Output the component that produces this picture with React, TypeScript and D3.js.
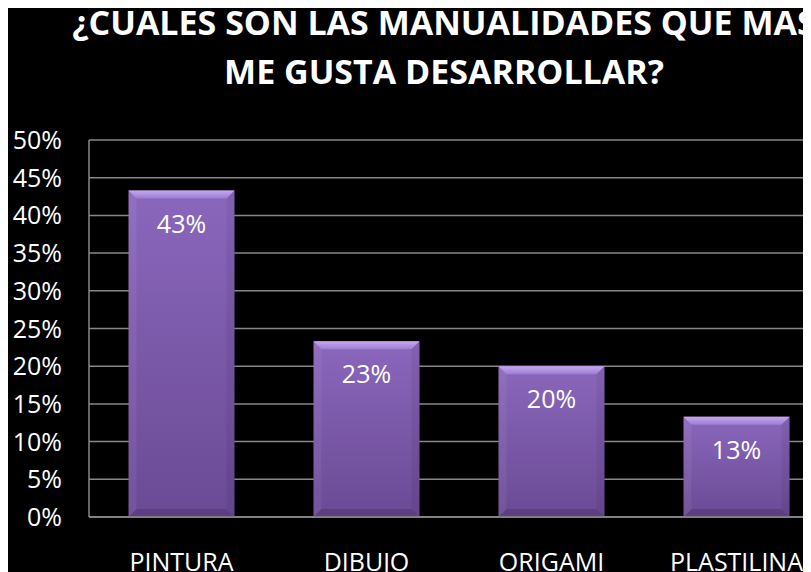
import React from 'react';
import * as d3 from 'd3';

const categories = ['PINTURA', 'DIBUJO', 'ORIGAMI', 'PLASTILINA'];
const values = [0.433, 0.233, 0.2, 0.133];
const valueLabels = ['43%', '23%', '20%', '13%'];
const yTicks = [0, 0.05, 0.1, 0.15, 0.2, 0.25, 0.3, 0.35, 0.4, 0.45, 0.5];
const titleLines = ['¿CUALES SON LAS MANUALIDADES QUE MAS', 'ME GUSTA DESARROLLAR?'];

const FONT = '"Open Sans", "DejaVu Sans", sans-serif';

const App = () => {
  const width = 803;
  const height = 564;

  // plot area in page coordinates (svg sits at 8,8)
  const y = d3.scaleLinear().domain([0, 0.5]).range([517, 140]);
  const x = d3
    .scaleBand<string>()
    .domain(categories)
    .range([89, 829])
    .paddingInner(0.427)
    .paddingOuter(0.2135);

  const bev = 8;
  const pct = d3.format('.0%');

  return (
    <>
      <style>{'body{overflow:hidden}'}</style>
      <svg width={width} height={height} style={{ display: 'block', background: '#000' }}>
        <defs>
          <linearGradient id="barBody" x1="0" y1="0" x2="0" y2="1">
            <stop offset="0%" stopColor="#8a67bc" />
            <stop offset="100%" stopColor="#6a4a95" />
          </linearGradient>
          <linearGradient id="barTop" x1="0" y1="0" x2="0" y2="1">
            <stop offset="0%" stopColor="#c6a8ee" />
            <stop offset="100%" stopColor="#9d7cd2" />
          </linearGradient>
        </defs>
        <g transform="translate(-8,-8)">
          {titleLines.map((t, i) => (
            <text
              key={t}
              x={444}
              y={35 + i * 49}
              textAnchor="middle"
              fill="#fff"
              fontFamily={FONT}
              fontWeight="bold"
              fontSize={34}
            >
              {t}
            </text>
          ))}

          {yTicks.map((t) => (
            <g key={t}>
              <line x1={89} x2={829} y1={y(t)} y2={y(t)} stroke="#878787" strokeWidth={1.5} />
              <text
                x={62}
                y={y(t) + 9}
                textAnchor="end"
                fill="#fff"
                fontFamily={FONT}
                fontSize={25}
              >
                {pct(t)}
              </text>
            </g>
          ))}
          <line x1={89} x2={89} y1={y(0.5)} y2={y(0)} stroke="#878787" strokeWidth={1.5} />

          {categories.map((c, i) => {
            const x0 = x(c)!;
            const x1 = x0 + x.bandwidth();
            const y0 = y(values[i]);
            const yb = y(0);
            return (
              <g key={c}>
                <rect x={x0} y={y0} width={x1 - x0} height={yb - y0} fill="url(#barBody)" />
                <path
                  d={`M${x0},${y0}L${x1},${y0}L${x1 - bev},${y0 + bev}L${x0 + bev},${y0 + bev}Z`}
                  fill="url(#barTop)"
                />
                <path
                  d={`M${x0},${y0}L${x0 + bev},${y0 + bev}L${x0 + bev},${yb - bev}L${x0},${yb}Z`}
                  fill="#fff"
                  fillOpacity={0.06}
                />
                <path
                  d={`M${x1},${y0}L${x1 - bev},${y0 + bev}L${x1 - bev},${yb - bev}L${x1},${yb}Z`}
                  fill="#000"
                  fillOpacity={0.06}
                />
                <path
                  d={`M${x0},${yb}L${x0 + bev},${yb - bev}L${x1 - bev},${yb - bev}L${x1},${yb}Z`}
                  fill="#000"
                  fillOpacity={0.14}
                />
                <text
                  x={x0 + x.bandwidth() / 2}
                  y={y0 + 42}
                  textAnchor="middle"
                  fill="#fff"
                  fontFamily={FONT}
                  fontSize={25}
                >
                  {valueLabels[i]}
                </text>
                <text
                  x={x0 + x.bandwidth() / 2}
                  y={571}
                  textAnchor="middle"
                  fill="#fff"
                  fontFamily={FONT}
                  fontSize={25}
                >
                  {c}
                </text>
              </g>
            );
          })}
          <line x1={89} x2={829} y1={y(0)} y2={y(0)} stroke="#8c8c8c" strokeWidth={1.5} />
        </g>
      </svg>
    </>
  );
};

export default App;
